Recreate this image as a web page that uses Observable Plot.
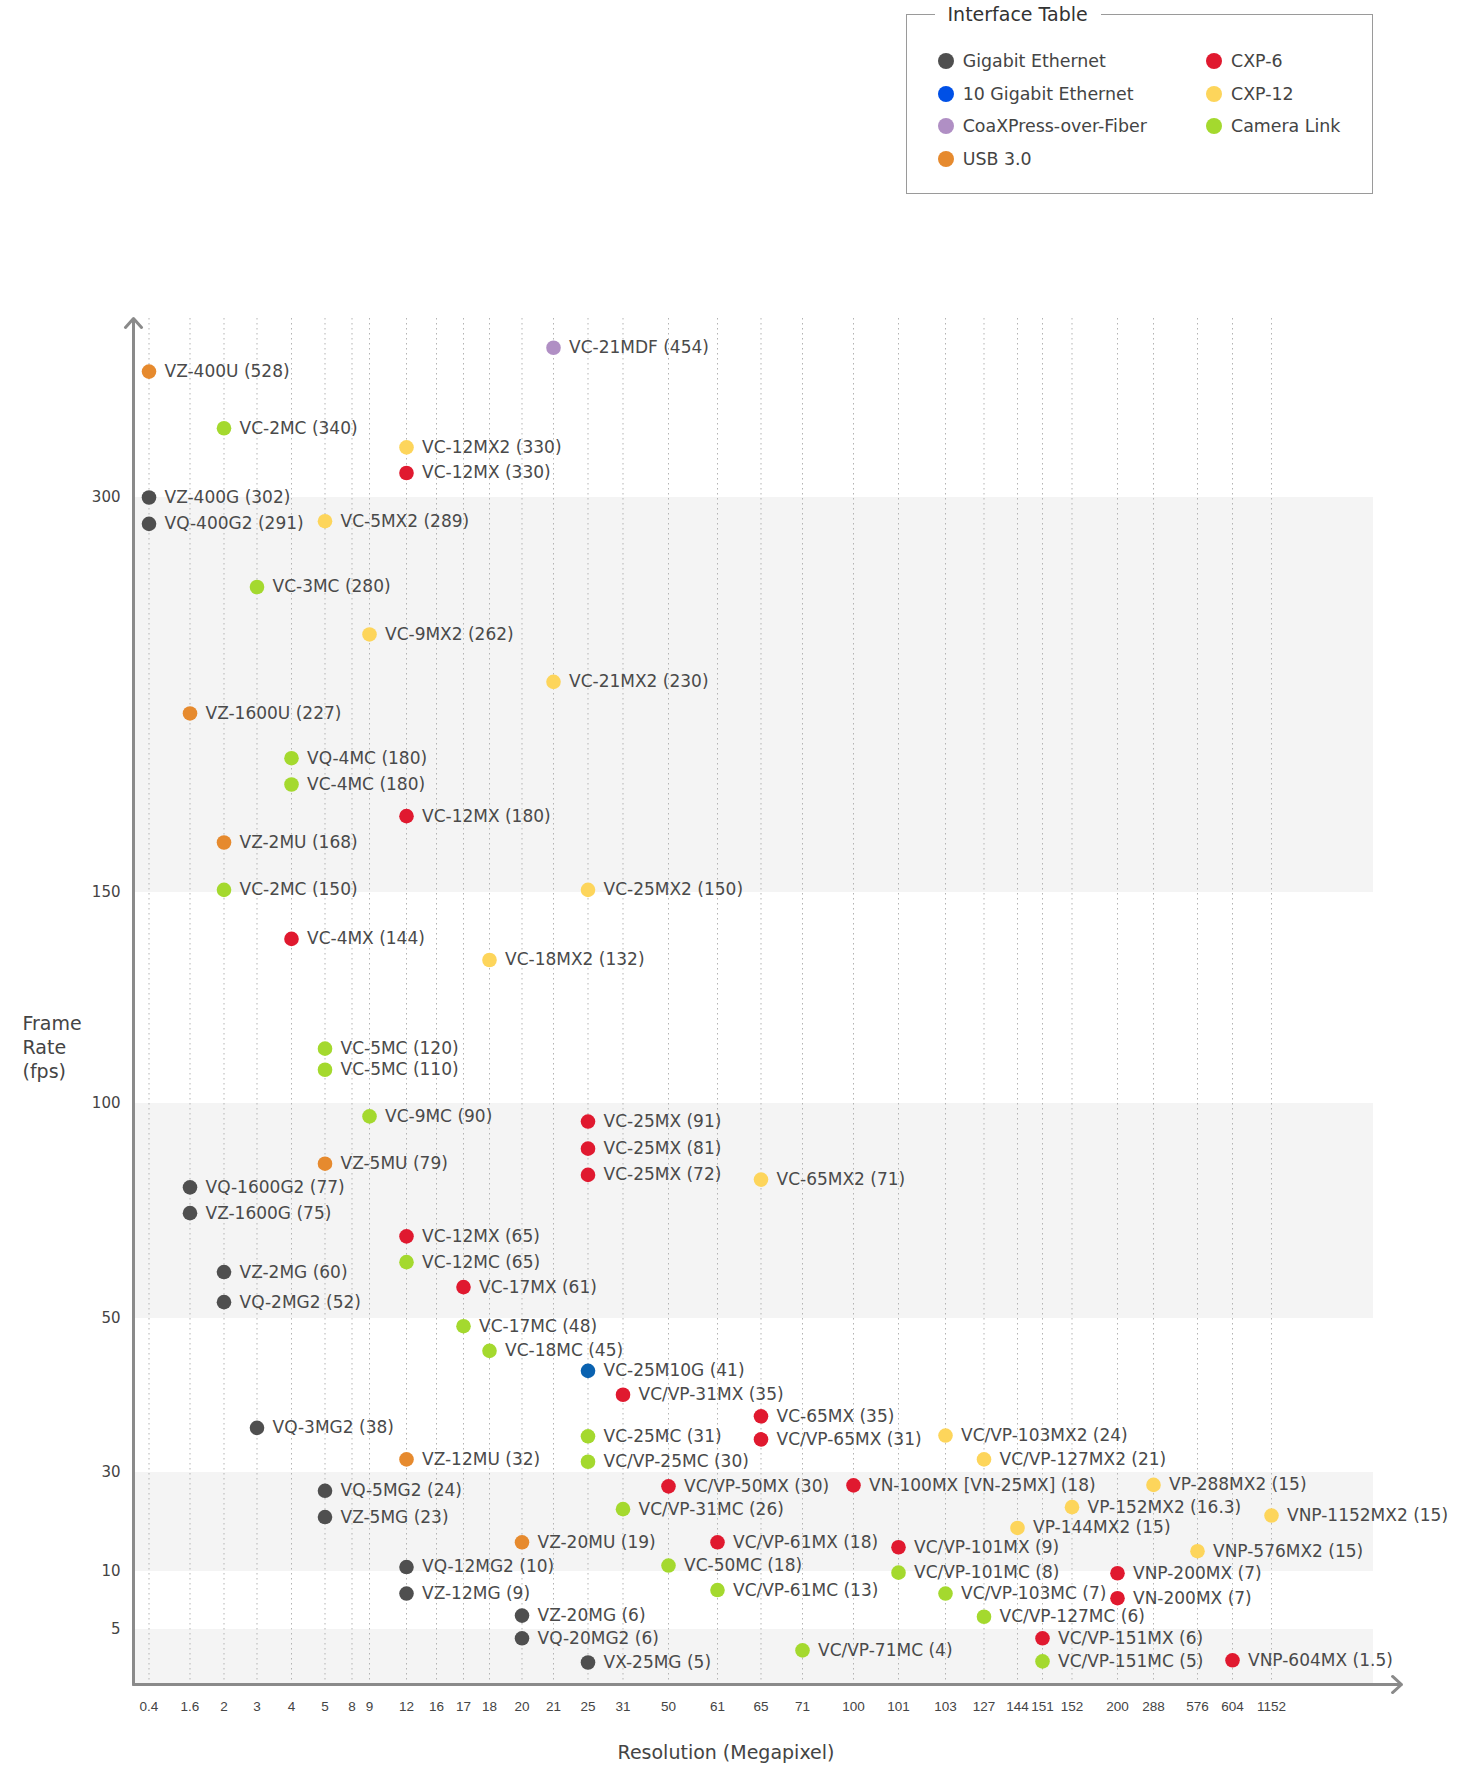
<!DOCTYPE html>
<html><head><meta charset="utf-8">
<script src="https://cdn.jsdelivr.net/npm/d3@7"></script>
<script src="https://cdn.jsdelivr.net/npm/@observablehq/plot@0.6"></script>
<style>
html,body{margin:0;padding:0;background:#fff;overflow:hidden;}
body{font-family:"DejaVu Sans",sans-serif;color:#444;}
#head{position:relative;width:1461px;height:210px;}
#box{position:absolute;left:906px;top:14px;width:465px;height:178px;border:1.5px solid #9a9a9a;}
#box .title{position:absolute;left:27.5px;top:-13.4px;background:#fff;padding:0 13px;font-size:19px;line-height:24px;color:#333;white-space:nowrap;}
.item{position:absolute;display:flex;align-items:center;height:24px;font-size:17.4px;color:#444;white-space:nowrap;}
.item .sw{width:16px;height:16px;border-radius:50%;margin-right:9px;flex:none;}
#chart svg{display:block;}
</style></head><body>
<div id="head"><div id="box"><span class="title">Interface Table</span></div></div>
<div id="chart"></div>
<script>
// ---- data ----
const xTicks = [0.4,1.6,2,3,4,5,8,9,12,16,17,18,20,21,25,31,50,61,65,71,100,101,103,127,144,151,152,200,288,576,604,1152];
const yTicks = [5,10,30,50,100,150,300];
const bandLo = [150,50,10,0];
const bandHi = [300,100,30,5];

const ifaceCodes = ["G","T","F","U","C6","C12","CL"];
const interfaces = ["Gigabit Ethernet","10 Gigabit Ethernet","CoaXPress-over-Fiber","USB 3.0","CXP-6","CXP-12","Camera Link"];
const dotColors = ["#4f4f4f","#0a62b0","#b08fc4","#e68a2e","#e0192f","#fdd55b","#a4d92e"];
const legendColors = ["#4f4f4f","#0050e6","#b08fc4","#e68a2e","#e0192f","#fdd55b","#a4d92e"];

const models = ["VC-21MDF","VZ-400U","VC-2MC","VC-12MX2","VC-12MX","VZ-400G","VQ-400G2","VC-5MX2","VC-3MC","VC-9MX2",
"VC-21MX2","VZ-1600U","VQ-4MC","VC-4MC","VC-12MX","VZ-2MU","VC-2MC","VC-25MX2","VC-4MX","VC-18MX2",
"VC-5MC","VC-5MC","VC-9MC","VC-25MX","VC-25MX","VZ-5MU","VC-25MX","VC-65MX2","VQ-1600G2","VZ-1600G",
"VC-12MX","VC-12MC","VZ-2MG","VC-17MX","VQ-2MG2","VC-17MC","VC-18MC","VC-25M10G","VC/VP-31MX","VC-65MX",
"VQ-3MG2","VC-25MC","VC/VP-65MX","VC/VP-103MX2","VZ-12MU","VC/VP-25MC","VC/VP-127MX2","VC/VP-50MX","VN-100MX [VN-25MX]","VP-288MX2",
"VQ-5MG2","VC/VP-31MC","VP-152MX2","VNP-1152MX2","VZ-5MG","VP-144MX2","VZ-20MU","VC/VP-61MX","VC/VP-101MX","VNP-576MX2",
"VQ-12MG2","VC-50MC","VC/VP-101MC","VNP-200MX","VZ-12MG","VC/VP-61MC","VC/VP-103MC","VN-200MX","VZ-20MG","VC/VP-127MC",
"VQ-20MG2","VC/VP-151MX","VX-25MG","VC/VP-71MC","VC/VP-151MC","VNP-604MX"];
const fpsLabels = ["454","528","340","330","330","302","291","289","280","262",
"230","227","180","180","180","168","150","150","144","132",
"120","110","90","91","81","79","72","71","77","75",
"65","65","60","61","52","48","45","41","35","35",
"38","31","31","24","32","30","21","30","18","15",
"24","26","16.3","15","23","15","19","18","9","15",
"10","18","8","7","9","13","7","7","6","6",
"6","6","5","4","5","1.5"];
const resolutions = [21,0.4,2,12,12,0.4,0.4,5,3,9,
21,1.6,4,4,12,2,2,25,4,18,
5,5,9,25,25,5,25,65,1.6,1.6,
12,12,2,17,2,17,18,25,31,65,
3,25,65,103,12,25,127,50,100,288,
5,31,152,1152,5,144,20,61,101,576,
12,50,101,200,12,61,103,200,20,127,
20,151,25,71,151,604];
const ifaceOf = ["F","U","CL","C12","C6","G","G","C12","CL","C12",
"C12","U","CL","CL","C6","U","CL","C12","C6","C12",
"CL","CL","CL","C6","C6","U","C6","C12","G","G",
"C6","CL","G","C6","G","CL","CL","T","C6","C6",
"G","CL","C6","C12","U","CL","C12","C6","C6","C12",
"G","CL","C12","C12","G","C12","U","C6","C6","C12",
"G","CL","CL","C6","G","CL","CL","C6","G","CL",
"G","C6","G","CL","CL","C6"];
// height at which each point is drawn
const plotLevels = [551,511,416,384,341,300,290,291,266,248,
230,218,201,191,179,169,151,151,139,134,
113,108,97,95.8,89.5,86,83.4,82.3,80.5,74.5,
69.1,63.1,60.8,57.3,53.8,49,45.8,43.2,40.1,37.3,
35.8,34.7,34.3,34.8,31.7,31.4,31.7,27.2,27.4,27.5,
26.3,22.6,23,21.3,21,18.8,15.9,15.9,14.9,14.1,
10.9,11.2,9.9,9.85,8.1,8.4,8.1,7.7,6.2,6.1,
4.2,4.2,2.0,3.1,2.1,2.2];

// ---- layout (scale config) ----
const xDomain = [0, ...xTicks, 2000];
const xRange = [133,148.5,189.5,223.5,256.5,291,324.5,351.5,369,406,436,463,489,521.5,553,587.5,622.5,668,717,760.5,802,853,898,945,983.5,1017,1042,1071.5,1117,1153,1197,1232,1271,1401];
const yDomain = [0,5,10,30,50,100,150,300,600];
const yRange = [1474,1419,1361,1262,1108,893,682,287,108];
const legendCol = [945.7, 1214];
const legendRow = [61, 93.7, 126, 159];
const legendSlots = [[0,0],[0,1],[0,2],[0,3],[1,0],[1,1],[1,2]];

// ---- build table ----
const nameOf = Object.fromEntries(ifaceCodes.map((c,i)=>[c, interfaces[i]]));
const data = models.map((m,i)=>({name:m, fps:fpsLabels[i], res:resolutions[i], iface:nameOf[ifaceOf[i]], level:plotLevels[i]}));
const bands = bandLo.map((lo,i)=>({lo, hi:bandHi[i]}));

// ---- legend ----
const legendHost = document.getElementById("head");
interfaces.forEach((name,i)=>{
  const [c,r] = legendSlots[i];
  const el = document.createElement("div");
  el.className = "item";
  el.style.left = (legendCol[c]-8)+"px";
  el.style.top = (legendRow[r]-12)+"px";
  const sw = document.createElement("span");
  sw.className = "sw"; sw.style.background = legendColors[i];
  el.appendChild(sw);
  el.appendChild(document.createTextNode(name));
  legendHost.appendChild(el);
});

// ---- chart ----
const axisColor = "#8a8a8a";
const chart = Plot.plot({
  width: 1461, height: 1559,
  marginLeft: 133, marginRight: 88, marginTop: 108, marginBottom: 85,
  style: {fontFamily: '"DejaVu Sans", sans-serif', color: "#444", background: "#fff", overflow: "visible"},
  x: {type: "linear", domain: xDomain, range: xRange},
  y: {type: "linear", domain: yDomain, range: yRange},
  color: {domain: interfaces, range: dotColors},
  marks: [
    Plot.rect(bands, {y1: "lo", y2: "hi", fill: "#f4f4f4"}),
    Plot.ruleX(xTicks, {x: d => d, stroke: "#b3b3b3", strokeWidth: 1, strokeDasharray: "1.5,3.5"}),
    Plot.axisY(yTicks, {tickSize: 0, tickPadding: 13, fontSize: 15, label: null, tickFormat: d => String(d)}),
    Plot.axisX(xTicks, {tickSize: 0, tickPadding: 17, fontSize: 13.5, fontFamily: '"Liberation Sans", Arial, sans-serif', label: null, tickFormat: d => String(d)}),
    Plot.arrow([0], {x1: 0, y1: 0, x2: 0, y2: 600, stroke: axisColor, strokeWidth: 3, headLength: 6, headAngle: 84}),
    Plot.arrow([0], {x1: 0, y1: 0, x2: 2000, y2: 0, stroke: axisColor, strokeWidth: 3, headLength: 6, headAngle: 84}),
    Plot.dot(data, {x: "res", y: "level", r: 7.3, fill: "iface"}),
    Plot.text(data, {x: "res", y: "level", text: d => `${d.name} (${d.fps})`, dx: 15.5, textAnchor: "start", fontSize: 17, fill: "#4a4a4a"}),
    Plot.text(["Frame\nRate\n(fps)"], {text: d => d, frameAnchor: "left", dx: -111, dy: 45, textAnchor: "start", lineAnchor: "middle", fontSize: 19, lineHeight: 1.26, fill: "#444"}),
    Plot.text(["Resolution (Megapixel)"], {text: d => d, frameAnchor: "bottom", dx: -27.5, dy: 68, lineAnchor: "middle", fontSize: 19, fill: "#444"})
  ]
});
document.getElementById("chart").appendChild(chart);
</script>
</body></html>
